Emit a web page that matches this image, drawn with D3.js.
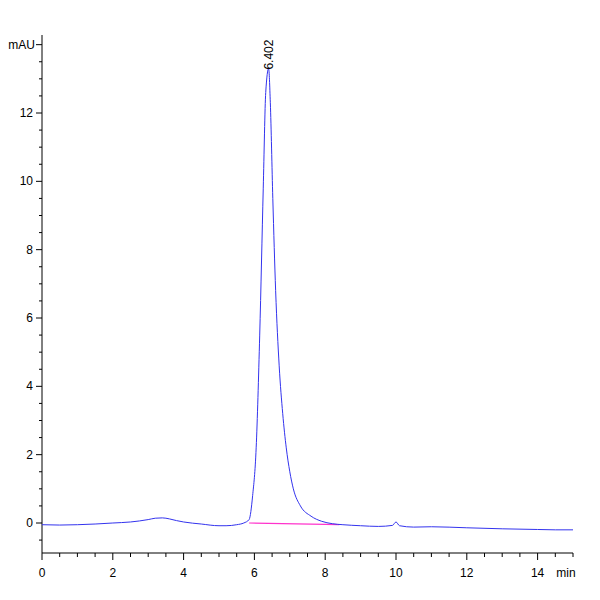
<!DOCTYPE html>
<html><head><meta charset="utf-8">
<script src="https://cdn.jsdelivr.net/npm/d3@7"></script>
<style>body{margin:0;background:#fff}</style></head>
<body><svg id="c" width="600" height="600"></svg>
<script>
const times  = [0,0.5,1,1.5,2,2.5,3,3.2,3.4,3.6,3.8,4,4.5,5,5.2,5.5,5.7,5.85,5.95,6.05,6.15,6.25,6.32,6.402,6.45,6.52,6.6,6.7,6.8,6.9,7.0,7.1,7.3,7.6,7.9,8.2,8.5,9,9.5,9.9,10,10.1,10.5,11,12,13,14,14.5,15];
const values = [-0.05,-0.06,-0.05,-0.03,0,0.03,0.1,0.14,0.15,0.12,0.07,0.03,-0.03,-0.08,-0.08,-0.05,0,0.1,0.8,2.2,5.5,9.8,12.6,13.3,12.3,9.5,6.8,4.6,3.2,2.2,1.5,1.0,0.5,0.2,0.05,-0.02,-0.05,-0.08,-0.1,-0.07,0.03,-0.08,-0.12,-0.11,-0.14,-0.17,-0.19,-0.2,-0.2];
const baseT = [5.85,8.4], baseV = [0.0,-0.05];
const xTicks = [0,2,4,6,8,10,12,14];
const yTicks = [0,2,4,6,8,10,12];
const peakLabel = "6.402", peakT = 6.402, peakV = 13.3;

const svg = d3.select("#c");
const x = d3.scaleLinear().domain([0,15]).range([42,573]);
const y = d3.scaleLinear().domain([0,12]).range([523,113]);
const font = "Liberation Sans Narrow, Arial Narrow, Liberation Sans, sans-serif";
svg.append("line").attr("x1",42).attr("x2",42).attr("y1",35).attr("y2",553).attr("stroke","#000");
svg.append("line").attr("x1",42).attr("x2",573).attr("y1",553).attr("y2",553).attr("stroke","#000");
d3.range(0,15.01,0.5).forEach(t=>{
  svg.append("line").attr("x1",x(t)).attr("x2",x(t)).attr("y1",553).attr("y2",t%2===0?560:557).attr("stroke","#000");
});
d3.range(-0.5,14.01,0.5).forEach(v=>{
  svg.append("line").attr("x1",42).attr("x2",v%2===0?36:39).attr("y1",y(v)).attr("y2",y(v)).attr("stroke","#000");
});
xTicks.forEach(t=>svg.append("text").attr("x",x(t)).attr("y",577).attr("text-anchor","middle").attr("font-family",font).attr("font-size",12).text(t));
svg.append("text").attr("x",566).attr("y",577).attr("text-anchor","middle").attr("font-family",font).attr("font-size",12).text("min");
yTicks.forEach(v=>svg.append("text").attr("x",33).attr("y",y(v)+4).attr("text-anchor","end").attr("font-family",font).attr("font-size",12).text(v));
svg.append("text").attr("x",35).attr("y",y(14)+4).attr("text-anchor","end").attr("font-family",font).attr("font-size",12).text("mAU");
svg.append("path").attr("d",d3.line().x((d,i)=>x(baseT[i])).y(d=>y(d))(baseV)).attr("stroke","#ff33cc").attr("stroke-width",1.2).attr("fill","none");
const line = d3.line().x((d,i)=>x(times[i])).y(d=>y(d)).curve(d3.curveMonotoneX);
svg.append("path").attr("d",line(values)).attr("stroke","#3333ee").attr("fill","none").attr("stroke-width",1);
svg.append("text").attr("transform",`translate(${x(peakT)+4},${y(peakV)+1}) rotate(-90)`).attr("font-family",font).attr("font-size",12).text(peakLabel);
</script></body></html>
